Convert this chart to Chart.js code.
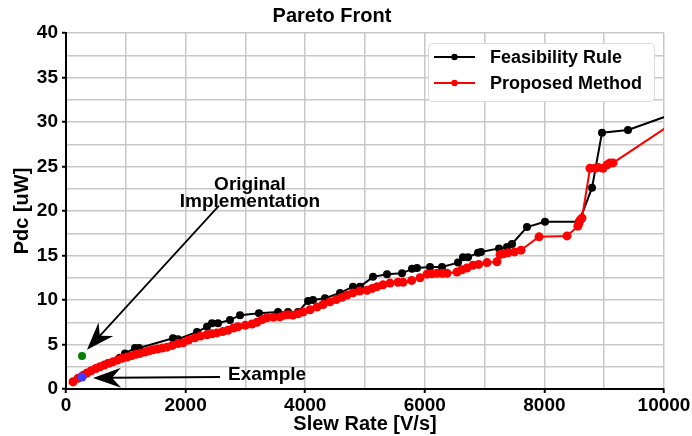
<!DOCTYPE html>
<html>
<head>
<meta charset="utf-8">
<script src="https://cdn.jsdelivr.net/npm/chart.js@4.4.1/dist/chart.umd.min.js"></script>
<style>
  body { margin: 0; background: #fff; }
</style>
</head>
<body>
<canvas id="paretoChart" width="692" height="436"></canvas>
<script>
// Feasibility Rule front (slew rate V/s, Pdc uW)
const feasX = [120, 300, 500, 700, 900, 987, 1154, 1221, 1789, 1873, 2191, 2358, 2441, 2542, 2742, 2910,
  3227, 3545, 3712, 3880, 4047, 4130, 4331, 4582, 4799, 4916, 5134, 5368, 5619, 5786, 5870, 6087, 6288,
  6555, 6639, 6722, 6890, 6940, 7241, 7375, 7458, 7709, 8010, 8579, 8796, 8963, 9398, 10400];
const feasY = [0.85, 1.6, 2.3, 2.9, 3.5, 4.0, 4.6, 4.6, 5.7, 5.6, 6.4, 7.0, 7.4, 7.4, 7.75, 8.3,
  8.5, 8.65, 8.65, 8.65, 9.9, 10.0, 10.2, 10.8, 11.5, 11.5, 12.6, 12.9, 13.0, 13.5, 13.6, 13.7, 13.7,
  14.2, 14.8, 14.8, 15.3, 15.4, 15.8, 15.95, 16.3, 18.2, 18.8, 18.8, 22.6, 28.8, 29.1, 31.5];

// Proposed Method front
const propX = [117, 200, 280, 351, 420, 500, 569, 640, 720, 786, 860, 940, 1020, 1100, 1170, 1237, 1320,
  1390, 1455, 1530, 1610, 1689, 1780, 1873, 1957, 2050, 2157, 2250, 2358, 2440, 2525, 2620, 2709, 2800,
  2876, 3000, 3110, 3194, 3280, 3361, 3470, 3579, 3650, 3712, 3796, 3880, 3963, 4080, 4197, 4300, 4415,
  4520, 4615, 4700, 4799, 4910, 5033, 5120, 5201, 5300, 5418, 5552, 5635, 5780, 5920, 6037, 6120, 6204,
  6290, 6371, 6538, 6620, 6706, 6806, 6900, 7040, 7207, 7258, 7320, 7391, 7500, 7609, 7910, 8378, 8560,
  8579, 8600, 8629, 8763, 8846, 8900, 8980, 9050, 9097, 9147, 10400];
const propY = [0.8, 1.2, 1.5, 1.8, 2.05, 2.3, 2.5, 2.7, 2.9, 3.05, 3.25, 3.45, 3.6, 3.75, 3.9, 4.0, 4.15,
  4.3, 4.4, 4.5, 4.6, 4.7, 4.9, 5.1, 5.2, 5.5, 5.75, 5.95, 6.1, 6.2, 6.3, 6.45, 6.6, 6.85,
  7.0, 7.15, 7.3, 7.5, 7.8, 8.0, 8.05, 8.1, 8.3, 8.35, 8.3, 8.45, 8.65, 8.9, 9.2, 9.5, 9.8,
  10.05, 10.3, 10.55, 10.8, 11.0, 11.1, 11.3, 11.5, 11.7, 11.9, 12.0, 12.0, 12.2, 12.5, 12.9, 12.95, 13.0,
  13.0, 13.0, 13.15, 13.4, 13.6, 13.9, 14.0, 14.2, 14.3, 15.1, 15.2, 15.3, 15.4, 15.6, 17.1, 17.2, 18.3,
  18.65, 19.0, 19.2, 24.8, 24.8, 24.9, 24.8, 25.2, 25.4, 25.4, 31.0];

// single highlighted points
const originalX = [268];
const originalY = [3.7];
const exampleX = [268];
const exampleY = [1.35];

const toPoints = (xs, ys) => xs.map((x, i) => ({ x: x, y: ys[i] }));

const FONT = "'Liberation Sans', Arial, Helvetica, sans-serif";

// arrows and notes, in data units
const arrows = [
  { from: [2559, 20.6], to: [351, 4.4] },
  { from: [2575, 1.35], to: [452, 1.25] }
];
const notes = [
  { text: 'Original', at: [3077, 22.9], align: 'center' },
  { text: 'Implementation', at: [3077, 21.0], align: 'center' },
  { text: 'Example', at: [2709, 1.55], align: 'left' }
];

function drawArrow(ctx, x0, y0, x1, y1) {
  const ang = Math.atan2(y1 - y0, x1 - x0);
  const len = 28, half = 10, notch = 19;
  const ux = Math.cos(ang), uy = Math.sin(ang);
  const px = -uy, py = ux;
  const bx = x1 - ux * len, by = y1 - uy * len;
  const nx = x1 - ux * notch, ny = y1 - uy * notch;
  ctx.beginPath();
  ctx.moveTo(x0, y0);
  ctx.lineTo(nx, ny);
  ctx.stroke();
  ctx.beginPath();
  ctx.moveTo(x1, y1);
  ctx.lineTo(bx + px * half, by + py * half);
  ctx.lineTo(nx, ny);
  ctx.lineTo(bx - px * half, by - py * half);
  ctx.closePath();
  ctx.fill();
}

const annotationPlugin = {
  id: 'notes',
  afterDatasetsDraw(chart) {
    const ctx = chart.ctx, xs = chart.scales.x, ys = chart.scales.y;
    ctx.save();
    ctx.strokeStyle = '#000';
    ctx.fillStyle = '#000';
    ctx.lineWidth = 1.8;
    arrows.forEach(a => {
      drawArrow(ctx, xs.getPixelForValue(a.from[0]), ys.getPixelForValue(a.from[1]),
        xs.getPixelForValue(a.to[0]), ys.getPixelForValue(a.to[1]));
    });
    ctx.font = 'bold 19px ' + FONT;
    ctx.textBaseline = 'middle';
    notes.forEach(n => {
      ctx.textAlign = n.align;
      ctx.fillText(n.text, xs.getPixelForValue(n.at[0]), ys.getPixelForValue(n.at[1]));
    });
    ctx.restore();
  }
};

// legend box inside the top right of the plot
const legendPlugin = {
  id: 'insideLegend',
  afterDraw(chart) {
    const ctx = chart.ctx, area = chart.chartArea;
    const items = chart.data.datasets.filter(d => !d.noLegend);
    ctx.save();
    ctx.font = 'bold 18px ' + FONT;
    const textW = Math.max(...items.map(d => ctx.measureText(d.label).width));
    const rowH = 26, padL = 6, lineLen = 41, gap = 15, padR = 12, padT = 14, padB = 18;
    const w = padL + lineLen + gap + textW + padR;
    const h = padT + rowH * (items.length - 1) + padB;
    const right = area.right - 10, top = area.top + 10, left = right - w;
    ctx.fillStyle = '#fff';
    ctx.strokeStyle = '#dcdcdc';
    ctx.lineWidth = 1;
    ctx.beginPath();
    ctx.roundRect(left + 0.5, top + 0.5, w, h, 4);
    ctx.fill();
    ctx.stroke();
    items.forEach((d, i) => {
      const cy = top + padT + i * rowH;
      ctx.strokeStyle = d.borderColor;
      ctx.lineWidth = 2;
      ctx.beginPath();
      ctx.moveTo(left + padL, cy);
      ctx.lineTo(left + padL + lineLen, cy);
      ctx.stroke();
      ctx.fillStyle = d.backgroundColor;
      ctx.beginPath();
      ctx.arc(left + padL + lineLen / 2, cy, 3.2, 0, Math.PI * 2);
      ctx.fill();
      ctx.fillStyle = '#000';
      ctx.textAlign = 'left';
      ctx.textBaseline = 'middle';
      ctx.fillText(d.label, left + padL + lineLen + gap, cy + 1);
    });
    ctx.restore();
  }
};

Chart.defaults.color = '#000';
Chart.defaults.font.family = FONT;

const markTick = c => (c.tick && c.tick.label !== '') ? '#000' : 'rgba(0,0,0,0)';

new Chart(document.getElementById('paretoChart').getContext('2d'), {
  type: 'line',
  data: {
    datasets: [
      {
        label: 'Feasibility Rule',
        data: toPoints(feasX, feasY),
        borderColor: '#000000',
        backgroundColor: '#000000',
        borderWidth: 2,
        pointRadius: 4,
        pointBorderWidth: 0,
        order: 2
      },
      {
        label: 'Proposed Method',
        data: toPoints(propX, propY),
        borderColor: '#ff0000',
        backgroundColor: '#ff0000',
        borderWidth: 2,
        pointRadius: 4.5,
        pointBorderWidth: 0,
        order: 1
      },
      {
        label: 'Original Implementation',
        data: toPoints(originalX, originalY),
        showLine: false,
        backgroundColor: '#008000',
        borderColor: '#008000',
        pointRadius: 4,
        pointBorderWidth: 0,
        noLegend: true,
        order: 0
      },
      {
        label: 'Example',
        data: toPoints(exampleX, exampleY),
        showLine: false,
        backgroundColor: '#3c3cff',
        borderColor: '#3c3cff',
        pointRadius: 4.5,
        pointBorderWidth: 0,
        noLegend: true,
        order: 0
      }
    ]
  },
  options: {
    responsive: false,
    devicePixelRatio: 1,
    animation: false,
    layout: { padding: { left: 0, right: 28, top: 0, bottom: 0 } },
    plugins: {
      legend: { display: false },
      tooltip: { enabled: false },
      title: {
        display: true,
        text: 'Pareto Front',
        color: '#000',
        font: { size: 20, weight: 'bold' },
        padding: { top: 4, bottom: 5 }
      }
    },
    scales: {
      x: {
        type: 'linear',
        min: 0,
        max: 10000,
        afterFit: s => { s.height = 47; },
        border: { display: true, color: '#000', width: 2 },
        grid: { color: '#c8c8c8', lineWidth: 1.5, tickLength: 4, tickWidth: 2, tickColor: markTick },
        ticks: {
          stepSize: 1000,
          maxRotation: 0,
          autoSkip: false,
          padding: 1,
          font: { size: 19, weight: 'bold' },
          callback: v => (v % 2000 === 0 ? String(v) : '')
        },
        title: {
          display: true,
          text: 'Slew Rate [V/s]',
          font: { size: 20, weight: 'bold' },
          padding: { top: 0, bottom: 0 }
        }
      },
      y: {
        min: 0,
        max: 40,
        afterFit: s => { s.width = 66; },
        border: { display: true, color: '#000', width: 2 },
        grid: { color: '#c8c8c8', lineWidth: 1.5, tickLength: 4, tickWidth: 2, tickColor: markTick },
        ticks: {
          stepSize: 2.5,
          autoSkip: false,
          padding: 4,
          font: { size: 19, weight: 'bold' },
          callback: v => (v % 5 === 0 ? String(v) : '')
        },
        title: {
          display: true,
          text: 'Pdc [uW]',
          font: { size: 20, weight: 'bold' },
          padding: { top: 10, bottom: 0 }
        }
      }
    }
  },
  plugins: [annotationPlugin, legendPlugin]
});
</script>
</body>
</html>
